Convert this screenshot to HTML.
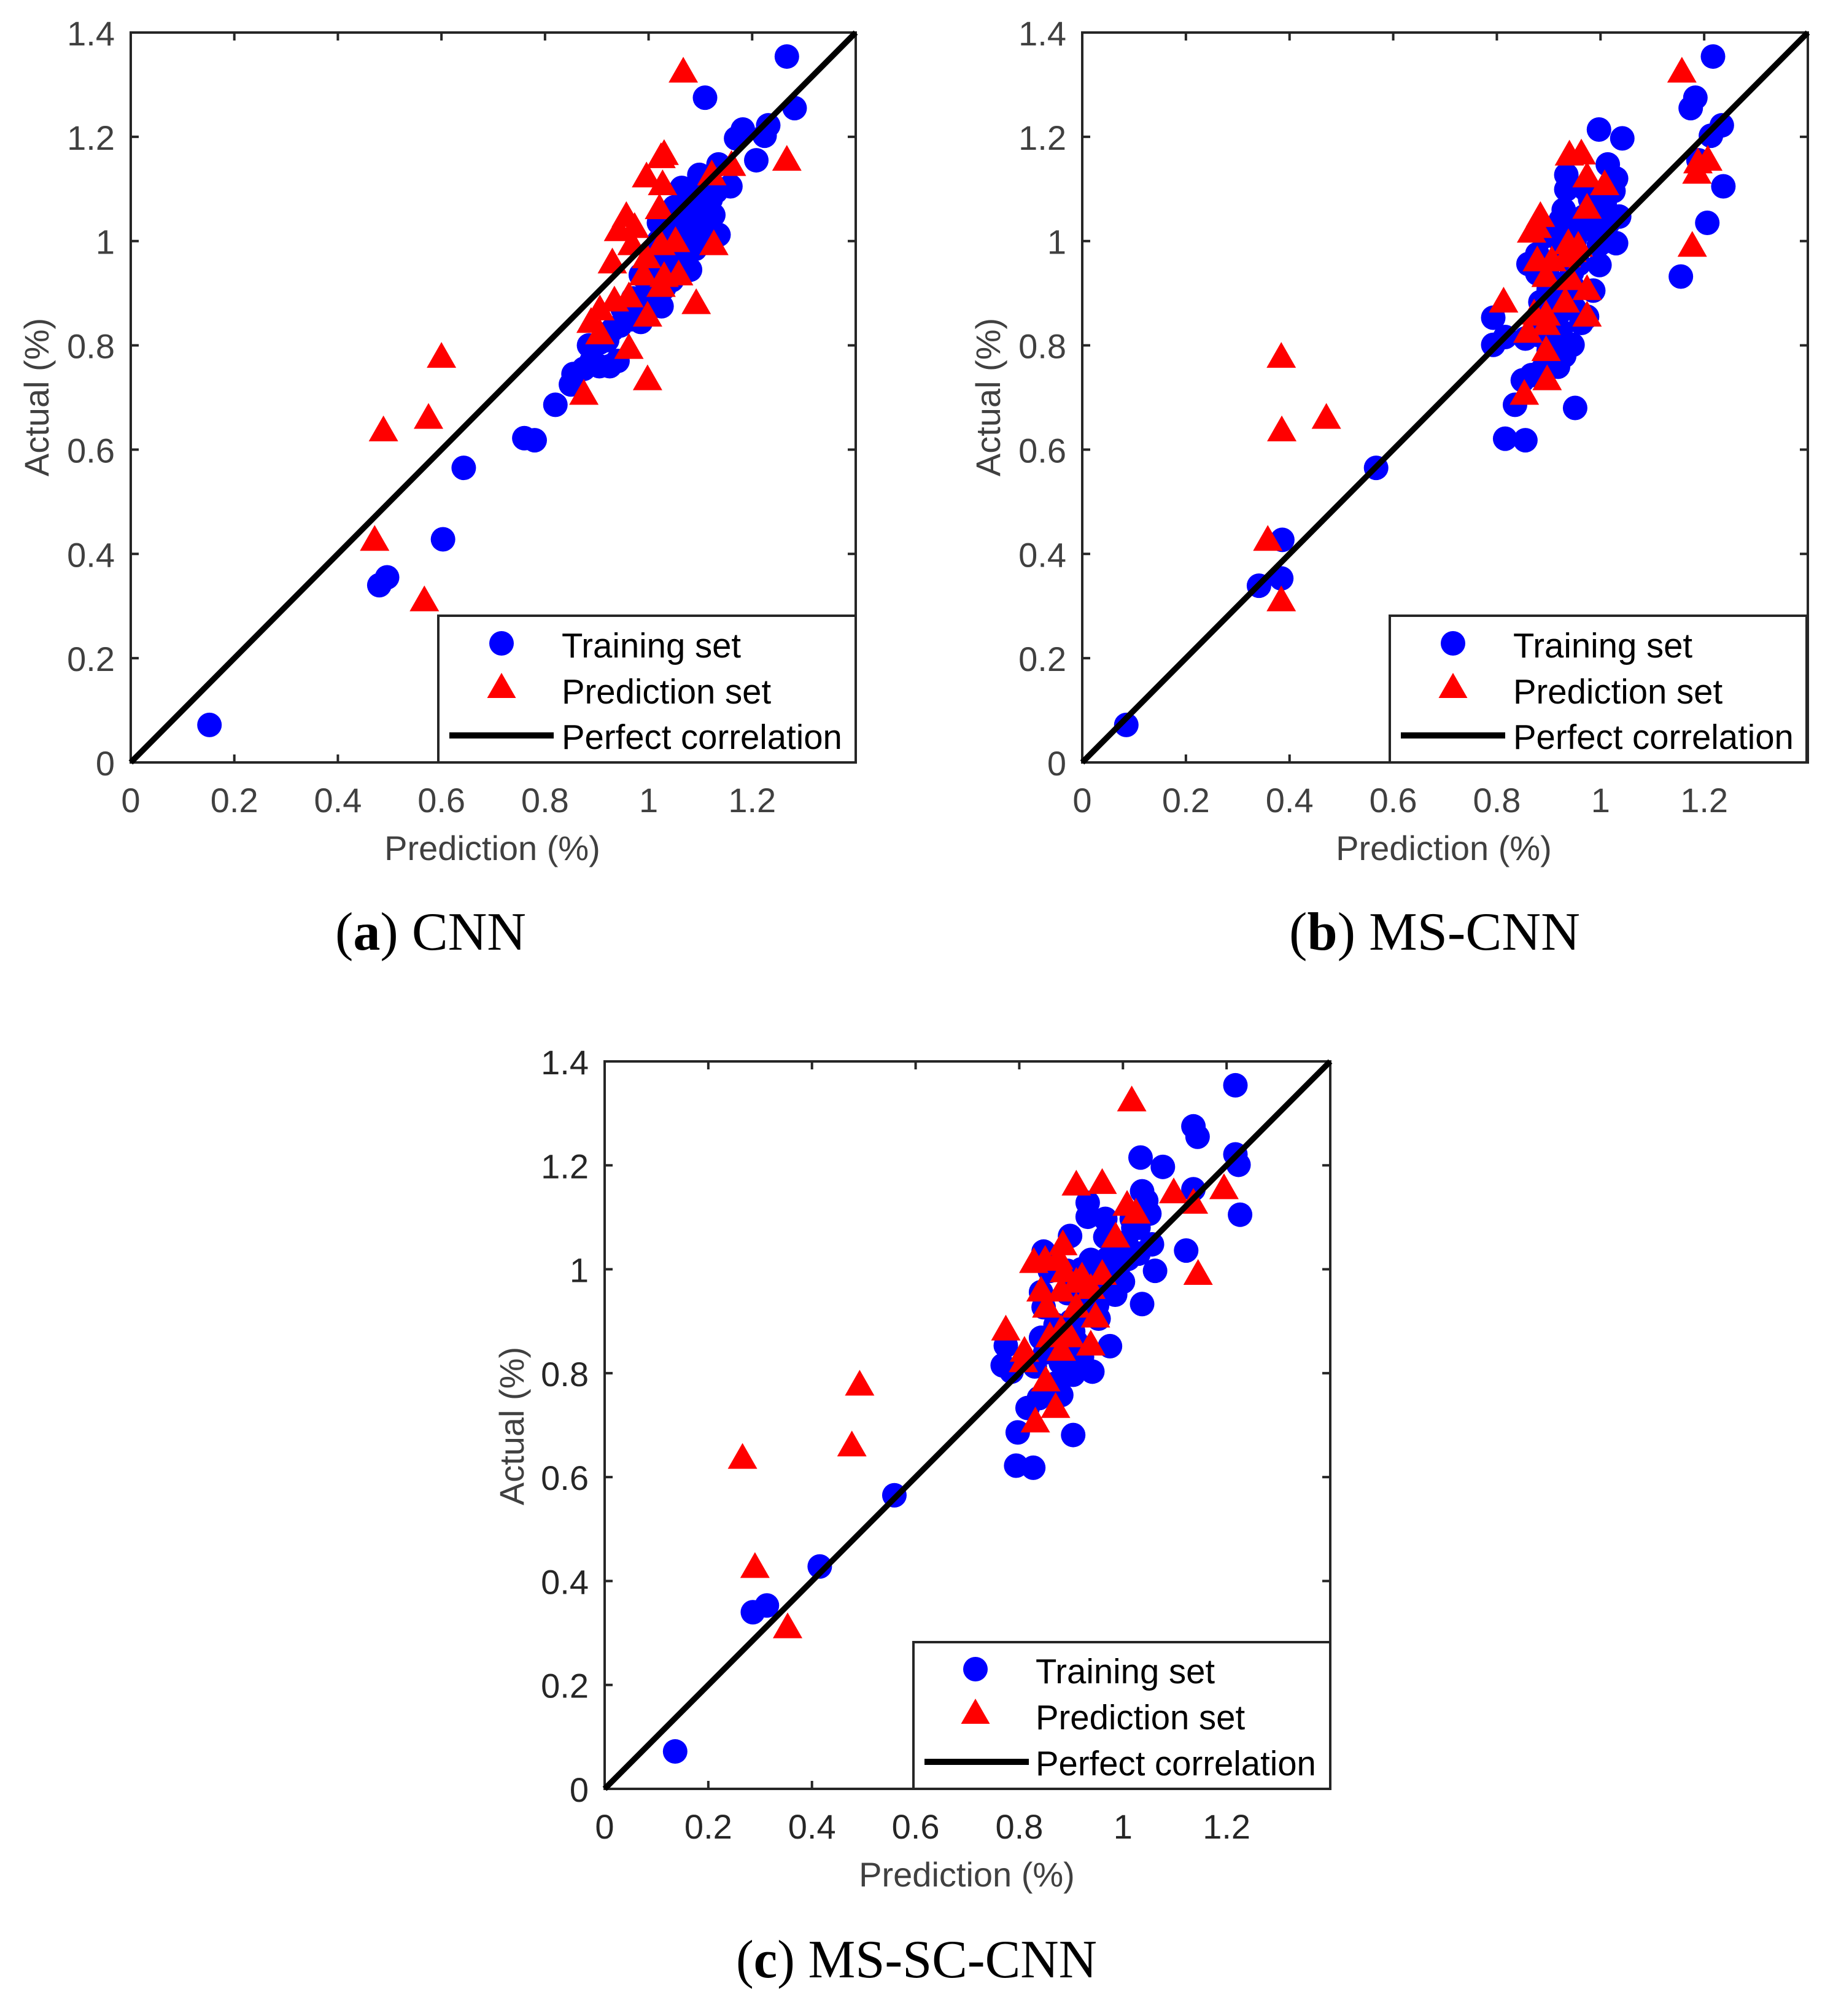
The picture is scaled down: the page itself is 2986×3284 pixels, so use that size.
<!DOCTYPE html>
<html lang="en">
<head>
<meta charset="utf-8">
<title>Actual vs prediction scatter plots</title>
<style>
html,body{margin:0;padding:0;background:#fff;width:2986px;height:3284px;overflow:hidden}
svg{display:block}
text{font-family:"Liberation Sans",Arial,sans-serif;font-size:56px}
.cap{font-family:"Liberation Serif","Times New Roman",serif;font-size:88px;fill:#000}
.axt{fill:#404040}
.leg{fill:#000;font-size:56.3px}
</style>
</head>
<body>
<svg id="fig" xmlns="http://www.w3.org/2000/svg" width="2986" height="3284" viewBox="0 0 2986 3284">
  <rect x="0" y="0" width="2986" height="3284" fill="#fff"/>

  <g id="panel-a">
    <g class="plot"></g>
    <text class="axt" x="802" y="1401" text-anchor="middle">Prediction (%)</text>
    <text class="axt" transform="translate(79 647) rotate(-90)" text-anchor="middle">Actual (%)</text>
    <g>
      <rect x="714" y="1003" width="680" height="239" fill="#fff" stroke="#262626" stroke-width="4"/>
      <circle cx="817" cy="1048" r="20" fill="#0000ff"/>
      <polygon points="817,1096 840.5,1137 793.5,1137" fill="#ff0000"/>
      <line x1="732" y1="1198" x2="902" y2="1198" stroke="#000" stroke-width="10"/>
      <text class="leg" x="915" y="1071">Training set</text>
      <text class="leg" x="915" y="1146">Prediction set</text>
      <text class="leg" x="915" y="1220">Perfect correlation</text>
    </g>
    <text class="cap" x="546" y="1547" textLength="311" lengthAdjust="spacingAndGlyphs">(<tspan font-weight="bold">a</tspan>) CNN</text>
  </g>

  <g id="panel-b">
    <g class="plot"></g>
    <text class="axt" x="2352" y="1401" text-anchor="middle">Prediction (%)</text>
    <text class="axt" transform="translate(1629 647) rotate(-90)" text-anchor="middle">Actual (%)</text>
    <g>
      <rect x="2264" y="1003" width="679" height="239" fill="#fff" stroke="#262626" stroke-width="4"/>
      <circle cx="2367" cy="1048" r="20" fill="#0000ff"/>
      <polygon points="2367,1096 2390.5,1137 2343.5,1137" fill="#ff0000"/>
      <line x1="2282" y1="1198" x2="2452" y2="1198" stroke="#000" stroke-width="10"/>
      <text class="leg" x="2465" y="1071">Training set</text>
      <text class="leg" x="2465" y="1146">Prediction set</text>
      <text class="leg" x="2465" y="1220">Perfect correlation</text>
    </g>
    <text class="cap" x="2100" y="1547" textLength="474" lengthAdjust="spacingAndGlyphs">(<tspan font-weight="bold">b</tspan>) MS-CNN</text>
  </g>

  <g id="panel-c">
    <g class="plot"></g>
    <text class="axt" x="1575" y="3073" text-anchor="middle">Prediction (%)</text>
    <text class="axt" transform="translate(853 2323) rotate(-90)" text-anchor="middle">Actual (%)</text>
    <g>
      <rect x="1488" y="2675" width="679" height="239" fill="#fff" stroke="#262626" stroke-width="4"/>
      <circle cx="1589" cy="2719" r="20" fill="#0000ff"/>
      <polygon points="1589,2767 1612.5,2808 1565.5,2808" fill="#ff0000"/>
      <line x1="1506" y1="2870" x2="1676" y2="2870" stroke="#000" stroke-width="10"/>
      <text class="leg" x="1687" y="2742">Training set</text>
      <text class="leg" x="1687" y="2817">Prediction set</text>
      <text class="leg" x="1687" y="2892">Perfect correlation</text>
    </g>
    <text class="cap" x="1199" y="3221" textLength="588" lengthAdjust="spacingAndGlyphs">(<tspan font-weight="bold">c</tspan>) MS-SC-CNN</text>
  </g>
</svg>

<script>
const tickValues = [0, 0.2, 0.4, 0.6, 0.8, 1, 1.2, 1.4];
const xTickLabels = ['0', '0.2', '0.4', '0.6', '0.8', '1', '1.2', ''];
const yTickLabels = ['0', '0.2', '0.4', '0.6', '0.8', '1', '1.2', '1.4'];
const axisLimit = [0, 1.4];

const trainXA = [.152,.48,.495,.603,.643,.76,.78,.82,.85,.855,.875,.89,.905,.925,.94,.885,.905,.92,.93,.945,.955,.965,.985,.975,.995,1.025,.995,1.005,.985,1.01,1.03,1.045,1.05,1.08,1.07,1.03,1.02,1.05,1.06,1.08,1.09,1.135,1.1,1.08,1.06,1.05,1.07,1.09,1.125,1.11,1.07,1.064,1.08,1.098,1.1,1.11,1.13,1.158,1.135,1.169,1.182,1.224,1.208,1.231,1.109,1.267,1.282,.95,.97,.99,1.01,1.04,1.06,1.07,1.09,1.1,1.04,1.02,1.08,1.12];
const trainYA = [.072,.34,.355,.428,.565,.622,.618,.686,.725,.745,.755,.77,.76,.76,.77,.8,.805,.81,.83,.838,.85,.85,.845,.87,.885,.875,.9,.92,.935,.93,.91,.925,.95,.945,.965,.97,1.035,1.0,.98,1.0,1.01,1.012,1.02,1.03,1.05,1.065,1.05,1.04,1.05,1.03,1.08,1.102,1.09,1.127,1.07,1.09,1.095,1.105,1.147,1.197,1.214,1.202,1.155,1.222,1.275,1.354,1.255,.87,.89,.86,.9,.94,.95,1.02,.985,1.0,1.01,1.0,1.06,1.08];
const predXA = [1.067,1.267,1.024,1.03,.996,1.027,1.021,.957,.973,.942,.968,.93,1.122,1.16,1.126,1.052,1.024,.996,.99,1.03,1.058,1.024,1.092,.998,.962,.934,.906,.889,.906,.962,.998,.875,.6,.575,.488,.471,.567];
const predYA = [1.324,1.155,1.16,1.166,1.123,1.108,1.062,1.047,1.026,1.02,.993,.958,1.127,1.145,.993,.999,.993,.968,.935,.932,.935,.913,.88,.856,.893,.885,.868,.844,.822,.794,.734,.706,.777,.66,.636,.426,.31];

const trainXB = [.085,.341,.384,.386,.567,.816,.855,.951,.835,.85,.867,.889,.918,.793,.816,.793,.855,.946,.912,.923,.963,.974,.923,.884,.9,.986,.946,.878,.861,.998,.958,.878,1.03,.997,.923,.895,.958,.991,1.036,.929,1.002,.923,.968,.934,.934,1.025,1.03,1.008,1.014,.997,1.042,1.155,1.206,1.237,1.189,1.213,1.234,1.174,1.183,1.217,.98,1.0,.95,.935,.91,1.015,.985,.9,.88,.9,.93,.95,.92,.945,1.01,.97,.99];
const trainYB = [.072,.339,.353,.427,.565,.621,.618,.68,.686,.733,.743,.755,.759,.801,.816,.853,.813,.801,.804,.828,.843,.855,.865,.883,.907,.905,.913,.938,.956,.954,.956,.975,.996,.993,.999,1.01,1.017,1.023,1.047,1.06,1.054,1.04,1.047,1.099,1.127,1.096,1.12,1.072,1.147,1.214,1.197,.932,1.035,1.105,1.155,1.202,1.222,1.255,1.275,1.354,1.08,1.09,1.0,.97,.84,1.035,1.06,.93,.82,.79,.78,.87,.9,.94,1.0,1.1,1.08];
const predXB = [1.157,1.207,1.188,1.186,1.177,.963,.94,.974,1.008,.974,.884,.878,.867,.938,.957,.945,.878,.906,.934,.895,.943,.974,.932,.813,.872,.895,.974,.895,.86,.895,.897,.853,.384,.471,.385,.358,.384];
const predYB = [1.324,1.155,1.15,1.13,.99,1.167,1.165,1.123,1.108,1.063,1.047,1.026,1.017,.995,.99,.98,.962,.962,.97,.932,.926,.907,.883,.883,.86,.858,.856,.84,.825,.79,.734,.706,.777,.66,.636,.426,.31];

const trainXC = [.136,.286,.313,.415,.559,.794,.827,.904,.797,.816,.838,.881,.859,.941,.904,.785,.768,.774,.83,.887,.921,.975,.842,.904,.87,.953,.915,.847,.842,.893,.985,1.037,1.0,.949,1.062,.893,.938,.859,.847,1.122,1.03,1.056,.898,.966,.989,1.006,.932,.966,.932,1.017,1.051,1.045,1.037,1.136,1.034,1.077,1.136,1.144,1.217,1.217,1.223,1.226,.92,.87,.96,1.02,.9,.85,.86,.88,.91,.95,.97,.99,1.01,1.03,.88,.92];
const trainYC = [.072,.34,.353,.428,.565,.622,.618,.681,.686,.733,.752,.758,.758,.803,.797,.803,.815,.853,.813,.831,.831,.852,.868,.88,.893,.905,.911,.927,.956,.954,.951,.933,.976,.966,.997,.997,1.018,.997,1.034,1.036,1.03,1.048,1.064,1.062,1.027,1.052,1.101,1.097,1.128,1.097,1.107,1.132,1.15,1.154,1.215,1.197,1.275,1.255,1.354,1.221,1.201,1.105,.94,.78,.98,1.08,.9,.84,.77,.82,.86,.93,1.02,1.0,1.02,1.08,1.0,1.0];
const predXC = [1.017,.96,.91,1.195,1.098,1.008,1.136,1.025,1.145,.986,.884,.876,.85,.828,.887,.921,.96,.91,.842,.881,.938,.853,.91,.947,.774,.881,.859,.898,.938,.881,.81,.808,.851,.87,.831,.492,.477,.266,.29,.353];
const predYC = [1.324,1.165,1.162,1.155,1.147,1.123,1.127,1.108,.99,1.062,1.047,1.02,1.017,1.013,.995,.985,.99,.975,.958,.958,.963,.927,.927,.908,.883,.883,.87,.87,.854,.844,.842,.822,.785,.734,.706,.777,.66,.636,.426,.31];

const SVGNS = 'http://www.w3.org/2000/svg';
const TICK_LEN = 13;
const CIRCLE_R = 20;
const TRI_W = 48;
const TRI_H = 42;
const TRI_LIFT = 4;

function make(tag, attrs, parent) {
  const el = document.createElementNS(SVGNS, tag);
  for (const k in attrs) el.setAttribute(k, attrs[k]);
  parent.appendChild(el);
  return el;
}

function drawPanel(panelId, box, tickColor, trainX, trainY, predX, predY) {
  const g = document.querySelector('#' + panelId + ' .plot');
  const sx = v => box.left + (v - axisLimit[0]) / (axisLimit[1] - axisLimit[0]) * (box.right - box.left);
  const sy = v => box.bottom - (v - axisLimit[0]) / (axisLimit[1] - axisLimit[0]) * (box.bottom - box.top);

  const frame = make('rect', {x: box.left, y: box.top, width: box.right - box.left, height: box.bottom - box.top, fill: '#fff', stroke: '#262626', 'stroke-width': 4}, g);
  
  

  tickValues.forEach((t, i) => {
    const pairs = [
      [sx(t), box.bottom, sx(t), box.bottom - TICK_LEN, 'x-tick'],
      [sx(t), box.top, sx(t), box.top + TICK_LEN, 'x-tick-top'],
      [box.left, sy(t), box.left + TICK_LEN, sy(t), 'y-tick'],
      [box.right, sy(t), box.right - TICK_LEN, sy(t), 'y-tick-right']
    ];
    pairs.forEach(p => {
      const tk = make('line', {x1: p[0], y1: p[1], x2: p[2], y2: p[3], stroke: '#262626', 'stroke-width': 4}, g);
      
      
    });
    if (xTickLabels[i]) {
      const xl = make('text', {x: sx(t), y: box.bottom + 81, 'text-anchor': 'middle', fill: tickColor}, g);
      xl.textContent = xTickLabels[i];
      
      
    }
    const yl = make('text', {x: box.left - 26, y: sy(t) + 21, 'text-anchor': 'end', fill: tickColor}, g);
    yl.textContent = yTickLabels[i];
    
    
  });

  trainX.forEach((v, i) => {
    const c = make('circle', {cx: sx(v), cy: sy(trainY[i]), r: CIRCLE_R, fill: '#0000ff'}, g);
    
    
  });

  predX.forEach((v, i) => {
    const px = sx(v);
    const py = sy(predY[i]) - TRI_LIFT;
    const pts = px + ',' + (py - TRI_H / 2) + ' ' + (px + TRI_W / 2) + ',' + (py + TRI_H / 2) + ' ' + (px - TRI_W / 2) + ',' + (py + TRI_H / 2);
    const tr = make('polygon', {points: pts, fill: '#ff0000'}, g);
    
    
  });

  const diag = make('line', {x1: sx(axisLimit[0]), y1: sy(axisLimit[0]), x2: sx(axisLimit[1]), y2: sy(axisLimit[1]), stroke: '#000', 'stroke-width': 9.5}, g);
  
  
}

drawPanel('panel-a', {left: 213, right: 1394, top: 53, bottom: 1242}, '#404040', trainXA, trainYA, predXA, predYA);
drawPanel('panel-b', {left: 1763, right: 2945, top: 53, bottom: 1242}, '#404040', trainXB, trainYB, predXB, predYB);
drawPanel('panel-c', {left: 985, right: 2167, top: 1729, bottom: 2914}, '#262626', trainXC, trainYC, predXC, predYC);
</script>
</body>
</html>
